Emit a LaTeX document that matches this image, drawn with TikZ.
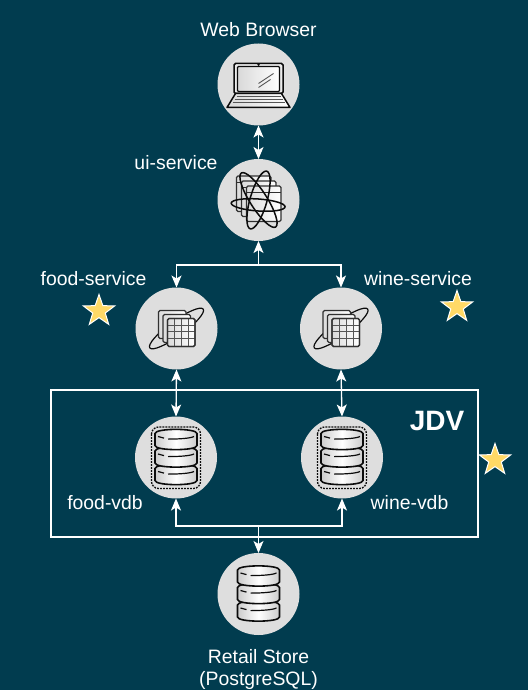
\documentclass[tikz,border=0pt]{standalone}
\usepackage{fontspec}
\setmainfont{Liberation Sans}
\usetikzlibrary{arrows.meta,shapes.geometric}
\definecolor{bgc}{HTML}{013C4F}
\definecolor{circ}{HTML}{DEDEDE}
\definecolor{starc}{HTML}{FFD966}
\definecolor{ink}{HTML}{0C0C0C}
\tikzset{
  x=1pt,y=-1pt,
  hub/.style={circle,fill=circ,draw=none,minimum size=82pt,inner sep=0pt,outer sep=0pt},
  lab/.style={text=white,font=\fontsize{19.4}{19.4}\selectfont,inner sep=0pt},
  link/.style={draw=white,line width=1.3pt,{Stealth[length=12pt,width=10pt,inset=3pt]}-{Stealth[length=12pt,width=10pt,inset=3pt]}},
  linkto/.style={draw=white,line width=1.3pt,-{Stealth[length=12pt,width=10pt,inset=3pt]},rounded corners=0pt},
  starry/.style={star,star points=5,star point ratio=2.5,fill=starc,draw=white,line width=1pt,minimum size=33pt,inner sep=0pt},
  glass/.style={draw=ink,line width=1.5pt,top color=white,bottom color=white!78!black,middle color=white!92!black},
  win/.style={draw=ink!85,line width=1.3pt,rounded corners=1.5pt,left color=white!86!black,right color=white},
  laptop/.pic={
    \draw[glass,rounded corners=1.5pt,left color=white!92!black,right color=white!92!black] (-24.5,-21) rectangle (24.5,9);
    \draw[draw=ink,line width=1.3pt,rounded corners=1pt,left color=white!85!black,right color=white] (-21,-18) rectangle (21,7);
    \fill[ink] (0,-19.8) circle (1.3);
    \draw[glass,line join=round,left color=white!85!black,right color=white] (-23,9) -- (23,9) -- (31.5,23) -- (-31.5,23) -- cycle;
    \draw[ink!70,line width=1pt] (-22,12.5) -- (22,12.5) (-24,15.5) -- (24,15.5) (-26,18.5) -- (26,18.5);
    \draw[ink!70,line width=.9pt] (0,-1) -- (15,-11) (0,3) -- (12,-5);
  },
  uistack/.pic={
    \foreach \dx/\dy in {-22/-24,-17/-19,-12/-14}{
      \draw[win] (\dx,\dy) rectangle ++(34.5,35.5);
      \draw[ink!85,line width=.9pt] (\dx,\dy+6) -- ++(34.5,0);
    }
    \begin{scope}[draw=ink,line width=1.5pt]
      \draw[rotate=-4] (0,5) ellipse [x radius=27,y radius=6];
      \draw[rotate=-57.6] (0,0) ellipse [x radius=32,y radius=8.5];
      \draw[rotate=74] (0,0) ellipse [x radius=30,y radius=8.5];
    \end{scope}
  },
  svcstack/.pic={
    \draw[ink,line width=1.2pt,rotate=36] (0,0) ellipse [x radius=33,y radius=7.5];
    \foreach \dx/\dy in {-18/-18,-13.5/-14,-9/-10}{
      \draw[win] (\dx,\dy) rectangle ++(27.5,28);
    }
    \draw[ink!70,line width=.9pt] (-9,-3.5) -- (18.5,-3.5) (-9,3) -- (18.5,3) (-9,10) -- (18.5,10)
      (-2,-10) -- (-2,18) (5,-10) -- (5,18) (12,-10) -- (12,18);
    \draw[ink!85,line width=1.3pt,rounded corners=1.5pt] (-9,-10) rectangle (18.5,18);
  },
  slabs/.pic={
    \foreach \t in {11,-6.5,-24}{
      \draw[glass,line width=1.6pt,left color=white!80!black,right color=white!80!black,middle color=white]
        (-21,\t) .. controls (-21,{\t-5.5}) and (21,{\t-5.5}) .. (21,\t)
        -- (21,{\t+12}) .. controls (21,{\t+17.5}) and (-21,{\t+17.5}) .. (-21,{\t+12}) -- cycle;
      \draw[ink,line width=1.2pt] (-8,{\t+5.6}) .. controls (2,{\t+5.6}) and (14,{\t+5}) .. (18,{\t+3});
      \draw[ink,line width=1.2pt] (-18,{\t+3}) -- (-12,{\t+4.6});
    }
  },
  vdb/.pic={
    \draw[ink,line width=1.3pt,dash pattern=on 1.8pt off 1.2pt,rounded corners=7pt] (-24.5,-30.5) rectangle (24.5,31);
    \pic at (0,0) {slabs};
  }
}
\begin{document}
\begin{tikzpicture}
\useasboundingbox (0,0) rectangle (528,690);
\fill[bgc] (0,0) rectangle (528,690);
\node[hub] (browser) at (258.5,84.5) {};
\node[hub] (ui) at (258.5,200) {};
\node[hub] (fs) at (176.5,328.5) {};
\node[hub] (ws) at (341,328.5) {};
\node[hub] (fv) at (176,457.5) {};
\node[hub] (wv) at (342,457.5) {};
\node[hub] (rs) at (258.5,594) {};
\node[draw=white,line width=1.2pt,minimum width=427pt,minimum height=147pt,inner sep=0pt] (jdv) at (264.5,463.5) {};
\pic at (browser.center) {laptop};
\pic at (ui.center) {uistack};
\pic at (fs.center) {svcstack};
\pic at (ws.center) {svcstack};
\pic at (fv.center) {vdb};
\pic at (wv.center) {vdb};
\pic at (rs.center) {slabs};
\coordinate (top) at (258.5,265);
\coordinate (bot) at (258.5,526);
\draw[link] (browser.south) -- (ui.north);
\draw[linkto] (top) -- (ui.south);
\draw[linkto] (top) -| (fs.north);
\draw[linkto] (top) -| (ws.north);
\draw[link] (fs.south) -- (fv.north);
\draw[link] (ws.south) -- (wv.north);
\draw[linkto] (bot) -| (fv.south);
\draw[linkto] (bot) -| (wv.south);
\draw[linkto] (bot) -- (rs.north);
\node[lab] (t1) at (258.5,30) {Web Browser};
\node[lab] (t2) at (176,163) {ui-service};
\node[lab] (t3) at (93.5,279) {food-service};
\node[lab] (t4) at (418,279) {wine-service};
\node[lab] (t5) at (105,503) {food-vdb};
\node[lab] (t6) at (409.5,503) {wine-vdb};
\node[lab] (t7) at (258.5,657) {Retail Store};
\node[lab] (t8) at (258.5,680) {(PostgreSQL)};
\node[text=white,font=\fontsize{28}{28}\selectfont\bfseries,inner sep=0pt] (t9) at (437,421) {JDV};
\node[starry] (s1) at (99,311) {};
\node[starry] (s2) at (457,307) {};
\node[starry] (s3) at (495,460) {};
\end{tikzpicture}
\end{document}
